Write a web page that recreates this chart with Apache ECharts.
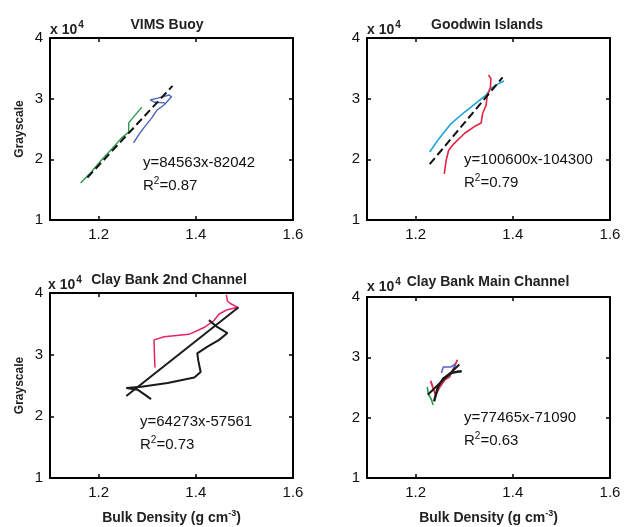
<!DOCTYPE html>
<html>
<head>
<meta charset="utf-8">
<script src="https://cdn.jsdelivr.net/npm/echarts@6/dist/echarts.min.js"></script>
<style>
  html, body { margin: 0; padding: 0; background: #fff; }
  #chart { width: 624px; height: 527px; }
</style>
</head>
<body>
<div id="chart"></div>
<script>
// panel names
const panelTitles = ['VIMS Buoy', 'Goodwin Islands', 'Clay Bank 2nd Channel', 'Clay Bank Main Channel']
const equations = ['y=84563x-82042', 'y=100600x-104300', 'y=64273x-57561', 'y=77465x-71090']
const rSquared = ['0.87', '0.79', '0.73', '0.63']
const xTicks = [1.2, 1.4, 1.6]

// VIMS Buoy
const vimsGreen = [[1.163,16100],[1.185,17900],[1.206,19900],[1.227,21700],[1.247,23500],[1.262,24500],[1.262,26000],[1.272,27000],[1.289,28600]]
const vimsBlue = [[1.272,22700],[1.282,24000],[1.295,25400],[1.309,26800],[1.320,28100],[1.335,29000],[1.350,30300],[1.345,30600],[1.322,30100],[1.306,29800],[1.316,29400],[1.336,29300]]
const vimsFit = [[1.177,17000],[1.352,32100]]

// Goodwin Islands
const goodwinCyan = [[1.229,21200],[1.246,23200],[1.273,25900],[1.301,27800],[1.328,29500],[1.345,30600],[1.355,31700],[1.369,32400],[1.382,32900]]
const goodwinRed = [[1.259,17600],[1.263,19900],[1.268,21500],[1.279,22600],[1.301,24300],[1.321,25400],[1.335,26000],[1.338,27600],[1.345,28900],[1.347,30300],[1.354,31900],[1.355,33300],[1.350,33900]]
const goodwinFit = [[1.229,19200],[1.379,33500]]

// Clay Bank 2nd Channel
const cb2Black = [[1.308,22800],[1.281,24300],[1.257,24600],[1.288,24800],[1.342,25400],[1.397,26300],[1.410,27200],[1.405,29100],[1.403,30200],[1.424,31300],[1.448,32400],[1.465,33500],[1.444,34500],[1.427,35600]]
const cb2Pink = [[1.316,27900],[1.315,29700],[1.314,32400],[1.335,32900],[1.386,33300],[1.417,34400],[1.437,35500],[1.448,36600],[1.465,37300],[1.486,37700],[1.471,38300],[1.465,38700],[1.463,39700]]
const cb2Fit = [[1.257,23300],[1.488,37700]]

// Clay Bank Main Channel
const cbmGreen = [[1.224,25100],[1.226,24000],[1.233,22900],[1.236,22100]]
const cbmRed = [[1.231,26100],[1.236,24900],[1.241,23800],[1.250,25100],[1.260,26300],[1.270,26800],[1.280,28500],[1.286,29600]]
const cbmBlue = [[1.253,27400],[1.257,28400],[1.273,28400],[1.282,28900],[1.277,27600],[1.267,26800]]
const cbmBlack = [[1.238,22700],[1.246,25100],[1.257,26500],[1.273,27400],[1.285,27600],[1.295,27700]]
const cbmFit = [[1.225,23800],[1.290,28800]]

const FONT = '"Liberation Sans", Arial, sans-serif'

const grids = [
  { left: 50, top: 38, width: 243, height: 182 },
  { left: 367, top: 38, width: 243, height: 182 },
  { left: 50, top: 293, width: 243, height: 185 },
  { left: 367, top: 297, width: 243, height: 181 }
]

const xAxes = []
const yAxes = []
grids.forEach((g, i) => {
  const axisLine = { show: true, lineStyle: { color: '#000', width: 2 } }
  const tick = { show: true, inside: true, length: 4, lineStyle: { color: '#000', width: 1.5 }, customValues: xTicks }
  xAxes.push({
    type: 'value', gridIndex: i, min: 1.1, max: 1.6, position: 'bottom',
    axisLine, splitLine: { show: false },
    axisTick: tick,
    axisLabel: { customValues: xTicks, margin: 7, color: '#111', fontSize: 15, fontFamily: FONT, formatter: v => v.toFixed(1) },
    name: i >= 2 ? '{a|Bulk Density (g cm}{s|-3}{a|)}' : '',
    nameLocation: 'middle', nameGap: 31,
    nameTextStyle: { rich: {
      a: { fontSize: 14, fontWeight: 'bold', color: '#222', fontFamily: FONT },
      s: { fontSize: 9, fontWeight: 'bold', color: '#222', fontFamily: FONT, padding: [0, 0, 9, 0] }
    } }
  })
  xAxes.push({
    type: 'value', gridIndex: i, min: 1.1, max: 1.6, position: 'top',
    axisLine, splitLine: { show: false },
    axisTick: tick, axisLabel: { show: false }
  })
  yAxes.push({
    type: 'value', gridIndex: i, min: 10000, max: 40000, interval: 10000, position: 'left',
    axisLine, splitLine: { show: false },
    axisTick: { show: true, inside: true, length: 4, lineStyle: { color: '#000', width: 1.5 } },
    axisLabel: { margin: 7, color: '#111', fontSize: 15, fontFamily: FONT, formatter: v => String(v / 10000) },
    name: i % 2 === 0 ? 'Grayscale' : '',
    nameLocation: 'middle', nameGap: 24,
    nameTextStyle: { fontSize: 12, fontWeight: 'bold', color: '#222', fontFamily: FONT }
  })
  yAxes.push({
    type: 'value', gridIndex: i, min: 10000, max: 40000, interval: 10000, position: 'right',
    axisLine, splitLine: { show: false },
    axisTick: { show: true, inside: true, length: 4, lineStyle: { color: '#000', width: 1.5 } },
    axisLabel: { show: false }
  })
})

function line(panel, data, color, width, dashed) {
  return {
    type: 'line', xAxisIndex: panel * 2, yAxisIndex: panel * 2, data,
    showSymbol: false, symbol: 'none', silent: true, animation: false,
    lineStyle: { color, width, type: dashed ? [8, 4] : 'solid' }
  }
}

const series = [
  line(0, vimsGreen, '#2a9a4c', 1.4),
  line(0, vimsBlue, '#4a63b8', 1.4),
  line(0, vimsFit, '#111', 2, true),
  line(1, goodwinCyan, '#1aa3d4', 1.6),
  line(1, goodwinRed, '#e42440', 1.6),
  line(1, goodwinFit, '#111', 2, true),
  line(2, cb2Pink, '#e8206a', 1.5),
  line(2, cb2Black, '#1a1a1a', 2),
  line(2, cb2Fit, '#1a1a1a', 2),
  line(3, cbmGreen, '#2a9a4c', 1.6),
  line(3, cbmRed, '#e42440', 1.8),
  line(3, cbmBlue, '#5a5fc0', 1.5),
  line(3, cbmBlack, '#1a1a1a', 2.4),
  line(3, cbmFit, '#1a1a1a', 2)
]

const titlePos = [[167, 25], [487, 25], [169, 280], [488, 282]]
const scalePos = [[50, 20], [367, 20], [48, 275], [367, 277]]
const eqPos = [[143, 155], [464, 152], [140, 414], [464, 410]]

const graphic = []
panelTitles.forEach((t, i) => {
  graphic.push({
    type: 'text', x: titlePos[i][0], y: titlePos[i][1],
    style: { text: t, font: 'bold 14px ' + FONT, fill: '#222', align: 'center', verticalAlign: 'middle' }
  })
  graphic.push({
    type: 'text', x: scalePos[i][0], y: scalePos[i][1],
    style: {
      text: '{a|x 10}{s|4}',
      rich: {
        a: { fontSize: 14, fontWeight: 'bold', fill: '#222', fontFamily: FONT },
        s: { fontSize: 10, fontWeight: 'bold', fill: '#222', fontFamily: FONT, padding: [0, 0, 10, 1] }
      }
    }
  })
  graphic.push({
    type: 'text', x: eqPos[i][0], y: eqPos[i][1],
    style: { text: equations[i], font: '15px ' + FONT, fill: '#111' }
  })
  graphic.push({
    type: 'text', x: eqPos[i][0], y: eqPos[i][1] + 21,
    style: {
      text: '{a|R}{s|2}{a|=' + rSquared[i] + '}',
      rich: {
        a: { fontSize: 15, fill: '#111', fontFamily: FONT },
        s: { fontSize: 10, fill: '#111', fontFamily: FONT, padding: [0, 0, 9, 0] }
      }
    }
  })
})

const chart = echarts.init(document.getElementById('chart'))
chart.setOption({
  animation: false,
  grid: grids,
  xAxis: xAxes,
  yAxis: yAxes,
  series,
  graphic
})
</script>
</body>
</html>
